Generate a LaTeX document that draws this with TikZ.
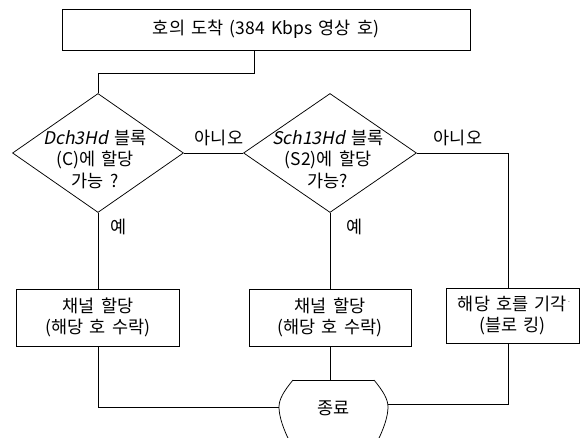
\documentclass[tikz,border=0pt]{standalone}
\usepackage{fontspec}
\setmainfont{Noto Sans CJK KR}[WordSpace=1.6]
\newfontfamily\slantfont[FakeSlant=0.2,WordSpace=1.6]{Noto Sans CJK KR}
\usetikzlibrary{shapes.geometric}
\begin{document}
\begin{tikzpicture}[x=1pt,y=-1pt,
  line width=0.75pt,
  every node/.style={font=\fontsize{17.5}{21.5}\selectfont},
  procbox/.style={draw, rectangle, inner sep=0pt},
  decision/.style={draw, diamond, inner sep=0pt, minimum width=171pt, minimum height=119pt},
  txt/.style={align=center, inner sep=0pt},
  lbl/.style={inner sep=0pt}]
\useasboundingbox (0,0) rectangle (582,438);
\clip (0,0) rectangle (582,438);
% nodes
\node[procbox, minimum width=408pt, minimum height=41pt] (top) at (266,29.5) {호의 도착 (384 Kbps 영상 호)};
\node[decision] (d1) at (98,153) {};
\node[decision, minimum width=173pt] (d2) at (330,153) {};
\node[txt] (d1t) at (95,159.5) {{\slantfont Dch3Hd} 블록\\(C)에 할당\\가능 ?};
\node[txt] (d2t) at (328,159.5) {{\slantfont Sch13Hd} 블록\\(S2)에 할당\\가능?};
\node[procbox, minimum width=163pt, minimum height=57pt, txt, draw] (b1) at (98,317.5) {채널 할당\\(해당 호 수락)};
\node[procbox, minimum width=162pt, minimum height=57pt, txt, draw] (b2) at (330,317.5) {채널 할당\\(해당 호 수락)};
\node[procbox, minimum width=133pt, minimum height=55pt, txt, draw] (b3) at (512.5,315.5) {\hspace*{4pt}해당 호를 기각\raisebox{0.6ex}{\scriptsize·}\\(블로 킹)};
\node[txt] (fint) at (333.5,408) {종료};
% terminator shape
\coordinate (finl) at (279,407);
\coordinate (finr) at (388,404);
\coordinate (fintop) at (330,380);
\draw (293,380) -- (374,380);
\draw (293,380) .. controls (284,391) and (279,399) .. (279,407) .. controls (279,416) and (283,429) .. (291,444);
\draw (374,380) .. controls (383,391) and (388,399) .. (388,407) .. controls (388,416) and (384,429) .. (376,444);
% connectors
\coordinate (j1) at (254,73);
\coordinate (j2) at (508,153);
\draw (j1 |- top.south) -- (j1) -| (d1.north);
\draw (d1.east) -- (d2.west);
\draw (d2.east) -- (j2) -- (j2 |- b3.north);
\draw (d1.south) -- (b1.north);
\draw (d2.south) -- (b2.north);
\draw (b1.south) |- (finl);
\draw (b2.south) -- (fintop);
\draw (j2 |- b3.south) |- (finr);
% labels
\node[lbl] (n1) at (219,138) {아니오};
\node[lbl] (n2) at (458,138) {아니오};
\node[lbl] (y1) at (119,227) {예};
\node[lbl] (y2) at (354.5,227) {예};
\end{tikzpicture}
\end{document}
